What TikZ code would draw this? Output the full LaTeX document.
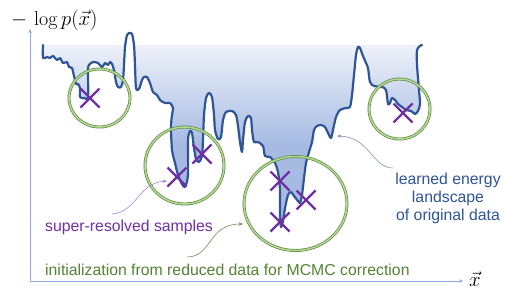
\documentclass[tikz,border=0pt]{standalone}
\usepackage{fontspec}
\setsansfont{Liberation Sans}
\usetikzlibrary{arrows.meta,shapes.geometric}
\definecolor{curveblue}{HTML}{2F5597}
\definecolor{filltop}{HTML}{EEF2FA}
\definecolor{fillbot}{HTML}{A6BAE2}
\definecolor{axisblue}{HTML}{8FAADC}
\definecolor{markpurple}{HTML}{7030A0}
\definecolor{ringdark}{HTML}{5E8C3C}
\definecolor{ringlight}{HTML}{B5D89A}
\definecolor{textgreen}{HTML}{548235}
\definecolor{textblue}{HTML}{2F5597}
\definecolor{arrpurple}{HTML}{A585CC}
\definecolor{arrgreen}{HTML}{6E8F58}
\definecolor{arrblue}{HTML}{8497B0}
\newcommand\landplot{plot[smooth,tension=0.45] coordinates {(43,45) (43,58) (47,57) (50,58) (53,56) (57,60) (60,58) (63,63) (67,62) (69,67) (72,68) (74,76) (76,84) (78,84) (80,88) (80,97) (84,98) (88,97) (88,70) (89,65) (93,62) (98,63) (102,67) (105,63) (108,65) (110,62) (112,64) (114,70) (116,82) (118,87) (121,87) (123,80) (124,65) (125,47) (127,35) (129,33) (132,34) (134,45) (135,65) (136,88) (139,89) (142,80) (144,77) (147,77) (150,83) (153,92) (157,95) (160,100) (165,103) (170,103) (173,108) (172,115) (171,127) (172,150) (175,163) (178,175) (182,184) (185,187) (188,175) (188,140) (190,131) (192,133) (194,148) (196,159) (199,162) (202,156) (203,140) (204,115) (206,98) (209,93) (212,97) (214,115) (215,130) (218,139) (221,137) (223,120) (226,112) (232,111) (236,115) (238,126) (240,142) (242,152) (243,140) (245,122) (248,116) (251,118) (252,130) (254,142) (258,142) (263,146) (265,156) (270,157) (275,163) (278,172) (280,190) (280,215) (281,227) (283,221) (285,208) (288,195) (291,192) (294,196) (298,201) (300,203) (302,195) (304,178) (306,163) (309,152) (312,142) (314,130) (317,126) (321,125) (325,127) (328,133) (331,138) (333,130) (336,117) (340,110) (346,108) (350,107) (352,95) (354,75) (356,55) (358,47) (360,48) (363,56) (366,63) (368,68) (370,82) (374,86) (382,87) (386,90) (388,104) (390,103) (392,98) (395,100) (398,104) (402,107) (406,110) (411,111) (415,114) (418,111) (420,104) (419,90) (417,65) (417,50) (420,46) (422,45)}}
\tikzset{
  landline/.style={draw=curveblue, line width=2.2pt, line join=round, line cap=round},
  ring/.style={draw=ringdark, line width=0.7pt, double=ringlight, double distance=1.5pt},
  crossmark/.style={draw=markpurple, line width=2.4pt},
  axisline/.style={draw=axisblue, line width=0.8pt, -{Stealth[length=4pt,width=3.5pt]}},
  thinarrow/.style={line width=0.6pt, -{Stealth[length=4.5pt,width=3.5pt]}},
  lab/.style={font=\fontsize{15.8}{18.3}\selectfont\sffamily, inner sep=0pt},
}
\begin{document}
\begin{tikzpicture}[x=1pt,y=-1pt]
\useasboundingbox (0,0) rectangle (505,292);
% axes
\coordinate (origin) at (30,281);
\coordinate (ytip) at (30,29);
\coordinate (xtip) at (463,281);
\draw[axisline] (origin) -- (ytip);
\draw[axisline] (origin) -- (xtip);
\node[inner sep=0pt, anchor=base west, font=\fontsize{20}{22}\selectfont] (ylab) at (11,25) {$-\,\log p(\vec{x})$};
\node[inner sep=0pt, anchor=base west, font=\fontsize{20}{22}\selectfont] (xlab) at (469,286) {$\vec{x}$};
% landscape fill
\begin{scope}
  \clip (0,44) rectangle (505,292);
  \clip \landplot -- cycle;
  \shade[top color=filltop, bottom color=fillbot] (40,44) rectangle (425,145);
  \fill[fillbot] (40,144.5) rectangle (425,232);
\end{scope}
\draw[landline] \landplot;
% rings
\node[ring, ellipse, minimum width=61pt, minimum height=58pt, inner sep=0pt] (r1) at (99.5,98) {};
\node[ring, ellipse, minimum width=79pt, minimum height=77pt, inner sep=0pt] (r2) at (184.5,165.5) {};
\node[ring, ellipse, minimum width=103pt, minimum height=94pt, inner sep=0pt] (r3) at (295.5,203.5) {};
\node[ring, ellipse, minimum width=61pt, minimum height=60pt, inner sep=0pt] (r4) at (399.5,109) {};
% crosses
\coordinate (c1) at (90,98);
\coordinate (c2) at (177,177);
\coordinate (c3) at (202,154);
\coordinate (c4) at (280,181);
\coordinate (c5) at (306,200);
\coordinate (c6) at (280,222);
\coordinate (c7) at (403,113);
\foreach \n in {c1,c2,c3,c4,c5,c6,c7}{
  \draw[crossmark] (\n) +(-9.5,-9.5) -- +(9.5,9.5);
  \draw[crossmark] (\n) +(-9.5,9.5) -- +(9.5,-9.5);
}
% labels
\node[lab, text=markpurple, anchor=base west] (super) at (45,231) {super-resolved samples};
\node[lab, text=textgreen, anchor=base west] (init) at (45,275) {initialization from reduced data for MCMC correction};
\node[lab, text=textblue, anchor=north, align=center] (learned) at (448,172.5) {learned energy\\landscape\\of original data};
% connectors
\coordinate (ps) at (112,214);
\coordinate (pe) at (167,181);
\draw[thinarrow, draw=arrpurple] (ps) .. controls (137,212) and (138,183) .. (pe);
\coordinate (gs) at (187,257);
\coordinate (ge) at (243,224);
\draw[thinarrow, draw=arrgreen] (gs) .. controls (212,257) and (208,224) .. (ge);
\coordinate (bs) at (393,168);
\coordinate (be) at (337,136);
\draw[thinarrow, draw=arrblue] (bs) .. controls (372,168) and (370,137) .. (be);
\end{tikzpicture}
\end{document}
